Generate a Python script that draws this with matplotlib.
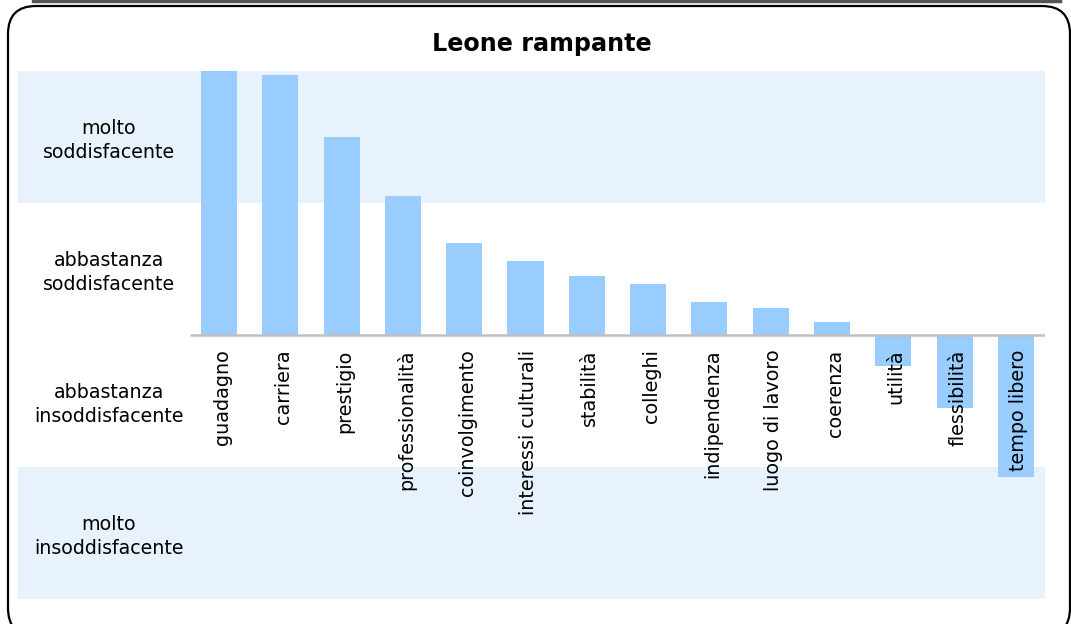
import numpy as np
import matplotlib.pyplot as plt
from matplotlib.patches import FancyBboxPatch

# data
voci = ['guadagno', 'carriera', 'prestigio', 'professionalità', 'coinvolgimento',
        'interessi culturali', 'stabilità', 'colleghi', 'indipendenza',
        'luogo di lavoro', 'coerenza', 'utilità', 'flessibilità', 'tempo libero']
valori = [2.0, 1.97, 1.50, 1.05, 0.70, 0.56, 0.45, 0.39, 0.25, 0.205, 0.10,
          -0.235, -0.55, -1.075]
livelli = ['molto\nsoddisfacente', 'abbastanza\nsoddisfacente',
           'abbastanza\ninsoddisfacente', 'molto\ninsoddisfacente']
livelli_y = [1.5, 0.5, -0.5, -1.5]
titolo = 'Leone rampante'

W, H = 1071, 624
fig = plt.figure(figsize=(W / 100, H / 100), dpi=100)

# rounded frame (coords in inches) + bottom edge of previous box at top
fig.add_artist(plt.Line2D([33 / W, 1060 / W], [1 - 1.2 / H, 1 - 1.2 / H],
                          transform=fig.transFigure, color='#555555', lw=2.5))
frame = FancyBboxPatch((0.08, -0.12), 10.62, 6.30,
                       boxstyle='round,pad=0,rounding_size=0.28',
                       transform=fig.dpi_scale_trans, fill=False,
                       edgecolor='black', lw=1.6)
fig.add_artist(frame)

ax = fig.add_axes([18 / W, 25 / H, 1027 / W, 528 / H])
x = np.arange(len(voci))
step = 61.3
ax.set_xlim((18 - 219) / step, (1045 - 219) / step)
ax.set_ylim(-2, 2)

# background bands
ax.axhspan(1, 2, color='#e8f2fd', lw=0, zorder=0)
ax.axhspan(-2, -1, color='#e8f2fd', lw=0, zorder=0)

ax.bar(x, valori, width=0.59, color='#99ccff', zorder=2)
ax.plot([(190 - 219) / step, (1045 - 219) / step], [0, 0], color='#c0c0c0',
        lw=1.8, zorder=3, solid_capstyle='butt')

for xi, v in zip(x, voci):
    ax.text(xi + 0.05, -0.11, v, rotation=90, ha='center', va='top',
            fontsize=13.8, color='black', zorder=4)

for t, yy in zip(livelli, livelli_y):
    ax.text((109 - 219) / step, yy - 0.025, t, ha='center', va='center',
            fontsize=13.7, linespacing=1.35, color='black')

ax.axis('off')
fig.text(542 / W, 1 - 44 / H, titolo, ha='center', va='center',
         fontsize=17.2, fontweight='bold')

fig.savefig('out.png', dpi=100)
